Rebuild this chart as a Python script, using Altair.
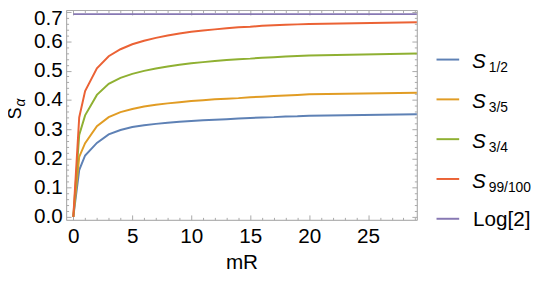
import altair as alt
import pandas as pd

# ---------------- data ----------------
mR = [0, 0.5, 1, 2, 3, 4, 5, 6, 7, 8, 9, 10, 11, 12, 13, 14, 15, 16, 17, 18, 19, 20, 30]
s_half = [0, 0.160, 0.210, 0.253, 0.282, 0.297, 0.307, 0.313, 0.318, 0.322, 0.325, 0.328,
          0.330, 0.332, 0.334, 0.336, 0.338, 0.340, 0.341, 0.343, 0.344, 0.346, 0.351]
s_3_5 = [0, 0.205, 0.252, 0.310, 0.341, 0.358, 0.369, 0.377, 0.383, 0.388, 0.392, 0.396,
         0.399, 0.402, 0.404, 0.406, 0.409, 0.411, 0.413, 0.415, 0.417, 0.419, 0.425]
s_3_4 = [0, 0.280, 0.347, 0.417, 0.455, 0.475, 0.489, 0.499, 0.507, 0.514, 0.520, 0.525,
         0.529, 0.533, 0.536, 0.539, 0.541, 0.544, 0.546, 0.548, 0.550, 0.552, 0.559]
s_99_100 = [0, 0.340, 0.430, 0.508, 0.549, 0.573, 0.590, 0.602, 0.612, 0.620, 0.627, 0.633,
            0.637, 0.641, 0.645, 0.648, 0.650, 0.653, 0.655, 0.657, 0.658, 0.659, 0.666]
log2_x = [0, 30]
log2_y = [0.6931, 0.6931]

series_names = ["S_1/2", "S_3/5", "S_3/4", "S_99/100", "Log[2]"]
series_colors = ["#5E81B5", "#E19C24", "#8FB032", "#EB6235", "#8778B3"]
legend_main = ["S", "S", "S", "S", "Log[2]"]
legend_sub = ["1/2", "3/5", "3/4", "99/100", ""]
legend_pos = [0, 1, 2, 3, 4]

x_major = [0, 5, 10, 15, 20, 25]
x_ticks = list(range(0, 30))
y_major = [0.0, 0.1, 0.2, 0.3, 0.4, 0.5, 0.6, 0.7]
y_ticks = [round(0.02 * i, 2) for i in range(0, 36)]

x_title = "mR"
y_title_main = "S"
y_title_sub = "α"

# ---------------- layout / style ----------------
W, H = 356, 213
x_domain = [-0.61, 29.13]
y_domain = [-0.0101, 0.7071]
FRAME = "#a9a9a9"
FONT = "Liberation Sans"
FS = 21

rows = []
for name, vals in zip(series_names[:4], [s_half, s_3_5, s_3_4, s_99_100]):
    for x, v in zip(mR, vals):
        rows.append({"mR": x, "value": v, "series": name})
for x, v in zip(log2_x, log2_y):
    rows.append({"mR": x, "value": v, "series": series_names[4]})
df = pd.DataFrame(rows)

leg = pd.DataFrame({"pos": legend_pos, "series": series_names,
                    "main": legend_main, "sub": legend_sub})

color = alt.Color("series:N", scale=alt.Scale(domain=series_names, range=series_colors),
                  legend=None)
xs = alt.Scale(domain=x_domain, nice=False, zero=False)
ys = alt.Scale(domain=y_domain, nice=False, zero=False)

x_tick_size = {"condition": {"test": "datum.value % 5 === 0", "value": 5}, "value": 2.5}
y_tick_size = {"condition": {"test": "abs(datum.value*10 - round(datum.value*10)) < 0.001",
                             "value": 5}, "value": 2.5}
# keep the top label inside the picture
y_label_offset = {"condition": {"test": "datum.value > 0.65", "value": 7}, "value": 0}

base = alt.Chart(df)

lines = base.mark_line(strokeWidth=2, clip=True).encode(
    x=alt.X("mR:Q", scale=xs, axis=alt.Axis(
        orient="bottom", values=x_major, ticks=False, tickSize=0, grid=False,
        domain=True, domainColor=FRAME, labelFontSize=FS, labelFont=FONT, labelColor="#000",
        labelPadding=6, labelFlush=False, labelOverlap=False,
        title=x_title, titleFontSize=FS, titleFont=FONT, titleFontWeight="normal",
        titleColor="#000", titlePadding=5)),
    y=alt.Y("value:Q", scale=ys, axis=alt.Axis(
        orient="left", values=y_major, format=".1f", ticks=False, tickSize=0, grid=False,
        domain=True, domainColor=FRAME, labelFontSize=FS, labelFont=FONT, labelColor="#000",
        labelPadding=4, labelFlush=False, labelOverlap=False, labelOffset=y_label_offset,
        title=None)),
    color=color,
)


def tick_layer(x_orient, y_orient, show_domain):
    return base.mark_point(opacity=0, clip=True).encode(
        x=alt.X("mR:Q", scale=xs, axis=alt.Axis(
            orient=x_orient, offset=-H, values=x_ticks, labels=False, grid=False,
            domain=show_domain, domainColor=FRAME, ticks=True, tickColor=FRAME,
            tickSize=x_tick_size, title=None)),
        y=alt.Y("value:Q", scale=ys, axis=alt.Axis(
            orient=y_orient, offset=-W, values=y_ticks, labels=False, grid=False,
            domain=show_domain, domainColor=FRAME, ticks=True, tickColor=FRAME,
            tickSize=y_tick_size, title=None)),
    )


ticks_in = tick_layer("top", "right", False)      # bottom & left inward ticks
ticks_far = tick_layer("bottom", "left", True)    # top & right frame with ticks

# y-axis title  S_alpha
title_data = alt.Data(values=[{"m": y_title_main, "s": y_title_sub}])
ytitle_main = alt.Chart(title_data).mark_text(
    angle=270, fontSize=18, font=FONT, align="center", baseline="middle", color="#000"
).encode(x=alt.value(-51), y=alt.value(105), text="m:N")
ytitle_sub = alt.Chart(title_data).mark_text(
    angle=270, fontSize=14, font=FONT, fontStyle="italic", align="center",
    baseline="middle", color="#000"
).encode(x=alt.value(-46), y=alt.value(94), text="s:N")

# legend
ly = alt.Y("pos:Q", scale=alt.Scale(domain=[-1.245, 4.027], reverse=True, nice=False,
                                    zero=False), axis=None)
leg_base = alt.Chart(leg)
leg_rules = leg_base.mark_rule(strokeWidth=2).encode(
    x=alt.value(376), x2=alt.value(399), y=ly, color=color)
leg_S = leg_base.transform_filter("datum.pos < 4").mark_text(
    align="left", baseline="middle", fontSize=FS, font=FONT, fontStyle="italic",
    dy=3, color="#000").encode(x=alt.value(412), y=ly, text="main:N")
leg_sub = leg_base.transform_filter("datum.pos < 4").mark_text(
    align="left", baseline="middle", fontSize=14, font=FONT,
    dy=9, color="#000").encode(x=alt.value(429), y=ly, text="sub:N")
leg_log = leg_base.transform_filter("datum.pos == 4").mark_text(
    align="left", baseline="middle", fontSize=FS, font=FONT,
    dy=1, color="#000").encode(x=alt.value(413), y=ly, text="main:N")

chart = alt.layer(
    ticks_in, ticks_far, lines, ytitle_main, ytitle_sub,
    leg_rules, leg_S, leg_sub, leg_log
).resolve_scale(
    x="independent", y="independent"
).resolve_axis(
    x="independent", y="independent"
).properties(
    width=W, height=H,
    autosize=alt.AutoSizeParams(type="none"),
    padding={"left": 59, "top": 0, "right": 122, "bottom": 58},
).configure_view(stroke=None).configure(background="white")

chart.save("out.html", embed_options={"renderer": "svg", "actions": False})
